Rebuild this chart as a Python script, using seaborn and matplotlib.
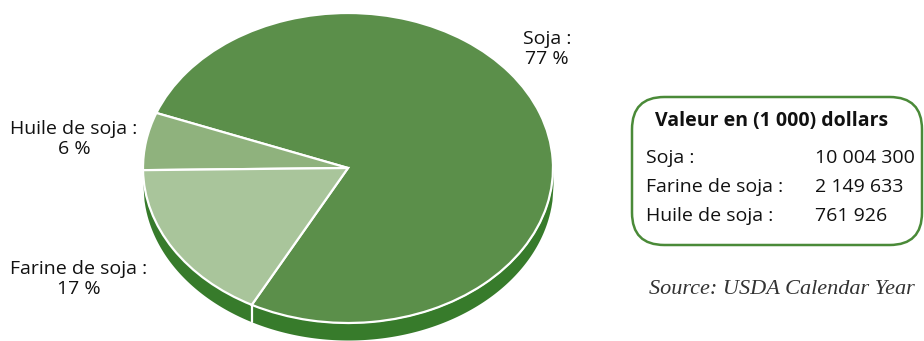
import numpy as np
import matplotlib
matplotlib.use("Agg")
import matplotlib.pyplot as plt
import seaborn as sns
from matplotlib.patches import FancyBboxPatch

# ---- data ----
slice_labels = ["Soja :\n77 %", "Huile de soja :\n6 %", "Farine de soja :\n17 %"]
shares = [77, 6, 17]
legend_title = "Valeur en (1 000) dollars"
legend_names = ["Soja :", "Farine de soja :", "Huile de soja :"]
legend_values = ["10 004 300", "2 149 633", "761 926"]
source_text = "Source: USDA Calendar Year"

colors = ["#5b8f4a", "#8fb27d", "#a9c59b"]
side_color = "#377b2b"
box_color = "#4a8a38"

sns.set_theme(style="white")
plt.rcParams["font.family"] = ["Open Sans", "DejaVu Sans"]

W, H = 924, 341
fig = plt.figure(figsize=(W / 100, H / 100), dpi=100)
ax = fig.add_axes([0, 0, 1, 1])

cx, cy, rx, ry = 348, 168, 205, 155   # ellipse geometry in pixels
depth = 17 / ry
start = -118

ax.pie(shares, colors=colors, startangle=start, counterclock=True,
       radius=1, center=(0, 0),
       wedgeprops=dict(edgecolor="white", linewidth=1.6, zorder=3))

# 3D side band
xs = np.linspace(-1, 1, 400)
top = -np.sqrt(np.clip(1 - xs ** 2, 0, None))
ax.fill_between(xs, top, top - depth, color=side_color, lw=0, zorder=1)
ang = np.deg2rad(start + 360)
xb, yb = np.cos(ang), np.sin(ang)
ax.plot([xb, xb], [yb, yb - depth], color="white", lw=1.6, zorder=2)

ax.set_aspect("auto")
ax.set_xlim(-cx / rx, (W - cx) / rx)
ax.set_ylim((cy - H) / ry, cy / ry)
ax.axis("off")


def fx(px):
    return px / W


def fy(py):
    return 1 - py / H


fs = 14
txt = "#111111"
fig.text(fx(547), fy(49), slice_labels[0], ha="center", va="center",
         fontsize=fs, linespacing=1.1, color=txt)
fig.text(fx(74), fy(139), slice_labels[1], ha="center", va="center",
         fontsize=fs, linespacing=1.1, color=txt)
fig.text(fx(79), fy(279), slice_labels[2], ha="center", va="center",
         fontsize=fs, linespacing=1.1, color=txt)

# legend box
bx0, by0, bx1, by1 = 632, 97, 922, 245
box = FancyBboxPatch((fx(bx0), fy(by1)), fx(bx1 - bx0), (by1 - by0) / H,
                     boxstyle="round,pad=0,rounding_size=0.035",
                     transform=fig.transFigure, fill=False,
                     edgecolor=box_color, linewidth=1.8,
                     mutation_aspect=W / H)
fig.patches.append(box)
fig.text(fx(655), fy(121), legend_title, ha="left", va="center",
         fontsize=fs, fontweight="bold", color=txt)
row_y = [158, 187, 216]
for name, val, y in zip(legend_names, legend_values, row_y):
    fig.text(fx(646), fy(y), name, ha="left", va="center", fontsize=fs,
             color=txt)
    fig.text(fx(815), fy(y), val, ha="left", va="center", fontsize=fs,
             color=txt)

fig.text(fx(915), fy(289), source_text, ha="right", va="center",
         fontsize=16, style="italic", family=["Liberation Serif"],
         color="#333333")

fig.savefig("out.png", dpi=100)
